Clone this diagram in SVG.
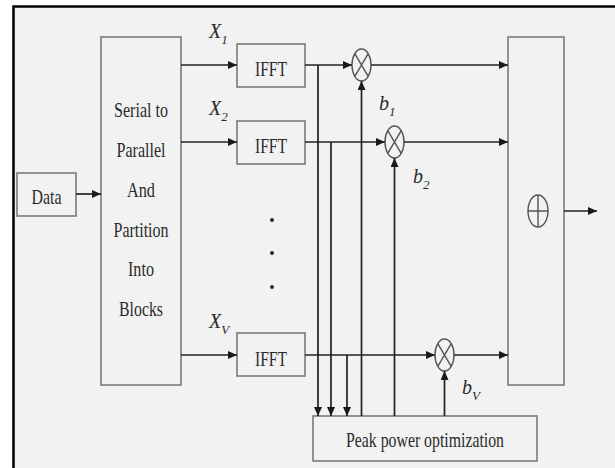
<svg xmlns="http://www.w3.org/2000/svg" width="615" height="468" viewBox="0 0 615 468">
<style>
.box{fill:#f2f2f2;stroke:#7a7a7a;stroke-width:1.6}
.ln{fill:none;stroke:#222;stroke-width:1.7}
.arr{marker-end:url(#ah)}
.t{font-family:"Liberation Serif","Times New Roman",serif;font-size:22px;fill:#2a2a2a;text-anchor:middle}
.lb{font-family:"Liberation Serif","Times New Roman",serif;font-size:20px;font-style:italic;fill:#2a2a2a}
.sub{font-size:13px}
.op{fill:none;stroke:#555;stroke-width:1.4}
</style>
<defs>
<marker id="ah" markerWidth="9" markerHeight="8" refX="9" refY="4" orient="auto" markerUnits="userSpaceOnUse">
<path d="M0,0 L9,4 L0,8 Z" fill="#1a1a1a"/>
</marker>
</defs>
<rect x="0" y="0" width="615" height="468" fill="#ffffff"/>
<rect x="13" y="6" width="610" height="470" fill="#f2f2f2"/>
<path d="M13.5,470 V6.5 H620" fill="none" stroke="#000" stroke-width="2.5"/>

<g id="data">
<rect class="box" x="17" y="173" width="59" height="43"/>
<text class="t" x="46.5" y="204" textLength="30" lengthAdjust="spacingAndGlyphs">Data</text>
</g>

<g id="s2p">
<rect class="box" x="101" y="37" width="80" height="348"/>
<text class="t" x="141" y="117" textLength="54" lengthAdjust="spacingAndGlyphs">Serial to</text>
<text class="t" x="141" y="157" textLength="49" lengthAdjust="spacingAndGlyphs">Parallel</text>
<text class="t" x="141" y="197" textLength="28" lengthAdjust="spacingAndGlyphs">And</text>
<text class="t" x="141" y="237" textLength="55" lengthAdjust="spacingAndGlyphs">Partition</text>
<text class="t" x="141" y="276" textLength="26" lengthAdjust="spacingAndGlyphs">Into</text>
<text class="t" x="141" y="316" textLength="44" lengthAdjust="spacingAndGlyphs">Blocks</text>
</g>

<g id="ifft1">
<rect class="box" x="237" y="44" width="68" height="43"/>
<text class="t" x="271" y="76" textLength="32" lengthAdjust="spacingAndGlyphs">IFFT</text>
</g>
<g id="ifft2">
<rect class="box" x="237" y="121" width="68" height="43"/>
<text class="t" x="271" y="153" textLength="32" lengthAdjust="spacingAndGlyphs">IFFT</text>
</g>
<g id="ifftv">
<rect class="box" x="237" y="333" width="68" height="43"/>
<text class="t" x="271" y="366" textLength="32" lengthAdjust="spacingAndGlyphs">IFFT</text>
</g>

<g id="dots" fill="#2a2a2a">
<circle cx="272" cy="220" r="2"/>
<circle cx="272" cy="253" r="2"/>
<circle cx="272" cy="287" r="2"/>
</g>

<g id="mult1">
<ellipse class="op" cx="361.5" cy="65" rx="9.5" ry="16"/>
<path class="op" d="M354.8,53.7 L368.2,76.3 M368.2,53.7 L354.8,76.3"/>
</g>
<g id="mult2">
<ellipse class="op" cx="394.5" cy="142" rx="9.5" ry="16"/>
<path class="op" d="M387.8,130.7 L401.2,153.3 M401.2,130.7 L387.8,153.3"/>
</g>
<g id="multv">
<ellipse class="op" cx="444.5" cy="355" rx="9.5" ry="16"/>
<path class="op" d="M437.8,343.7 L451.2,366.3 M451.2,343.7 L437.8,366.3"/>
</g>

<g id="sum">
<rect class="box" x="508" y="37" width="56" height="348"/>
<ellipse class="op" cx="538" cy="211" rx="10" ry="16"/>
<path class="op" d="M528,211 H548 M538,195 V227"/>
</g>

<g id="peak">
<rect class="box" x="313" y="416" width="224" height="45"/>
<text class="t" x="425" y="447" textLength="158" lengthAdjust="spacingAndGlyphs">Peak power optimization</text>
</g>

<g id="labels">
<text class="lb" x="209" y="38">X<tspan class="sub" dy="6">1</tspan></text>
<text class="lb" x="209" y="115">X<tspan class="sub" dy="6">2</tspan></text>
<text class="lb" x="209" y="328">X<tspan class="sub" dy="6">V</tspan></text>
<text class="lb" x="379" y="110">b<tspan class="sub" dy="6">1</tspan></text>
<text class="lb" x="413" y="183">b<tspan class="sub" dy="6">2</tspan></text>
<text class="lb" x="462" y="394">b<tspan class="sub" dy="6">V</tspan></text>
</g>

<g id="connectors">
<path class="ln arr" d="M76,194 H101"/>
<path class="ln arr" d="M181,65 H237"/>
<path class="ln arr" d="M181,142 H237"/>
<path class="ln arr" d="M181,355 H237"/>
<path class="ln arr" d="M305,65 H352"/>
<path class="ln arr" d="M371,65 H508"/>
<path class="ln arr" d="M305,142 H385"/>
<path class="ln arr" d="M404,142 H508"/>
<path class="ln arr" d="M305,355 H435"/>
<path class="ln arr" d="M454,355 H508"/>
<path class="ln arr" d="M318,65 V416"/>
<path class="ln arr" d="M331,142 V416"/>
<path class="ln arr" d="M347,355 V416"/>
<path class="ln arr" d="M361.5,416 V81"/>
<path class="ln arr" d="M394.5,416 V158"/>
<path class="ln arr" d="M444.5,416 V371"/>
<path class="ln arr" d="M564,211 H597"/>
</g>
</svg>
